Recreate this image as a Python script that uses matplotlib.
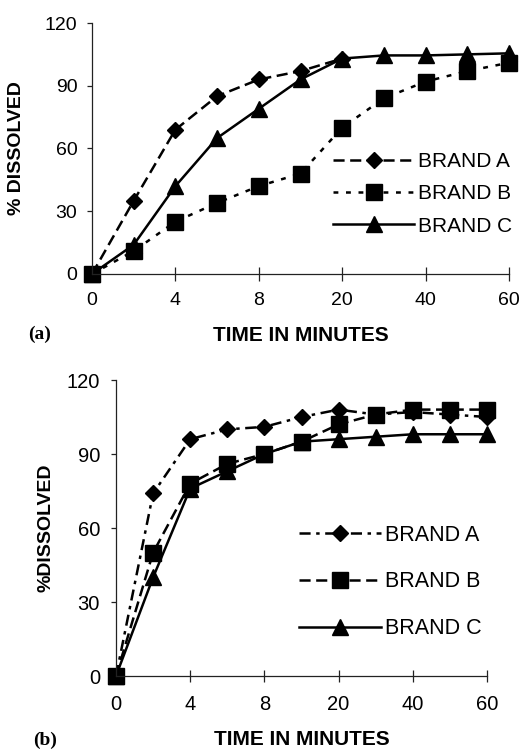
import numpy as np
import matplotlib
matplotlib.use("Agg")
import matplotlib.pyplot as plt

plt.rcParams['font.family'] = ['Liberation Sans', 'DejaVu Sans']
plt.rcParams['lines.scale_dashes'] = False

# sampling times (plotted at equal spacing, like a category axis)
times = [0, 2, 4, 6, 8, 10, 20, 30, 40, 50, 60]
tick_times = [0, 4, 8, 20, 40, 60]
yticks = [0, 30, 60, 90, 120]

# panel (a)  (brand A hidden under brand C after 20 min)
a_brand_a = [0, 35, 69, 85, 93, 97, 103, None, None, None, None]
a_brand_b = [0, 11, 25, 34, 42, 48, 70, 84, 92, 97, 101]
a_brand_c = [0, 14, 42, 65, 79, 93, 103, 104.5, 104.5, 105, 105.5]

# panel (b)
b_brand_a = [0, 74, 96, 100, 101, 105, 108, 106, 107, 106, 105]
b_brand_b = [0, 50, 78, 86, 90, 95, 102, 106, 108, 108, 108]
b_brand_c = [0, 40, 76, 83, 90, 95, 96, 97, 98, 98, 98]

labels = ['BRAND A', 'BRAND B', 'BRAND C']

W, H = 525, 752
fig = plt.figure(figsize=(W / 100, H / 100), dpi=100)


def px_axes(left, top, right, bottom):
    return fig.add_axes([left / W, 1 - bottom / H, (right - left) / W, (bottom - top) / H])


def style_axes(ax, ylab, ylabpad, xlabpad, tickfs, xtlpad, ytlpad, ticklen, labfs):
    x = np.arange(len(times))
    ax.set_xlim(0, len(times) - 1)
    ax.set_ylim(0, 120)
    ax.set_xticks([times.index(t) for t in tick_times])
    ax.set_xticklabels([str(t) for t in tick_times], fontsize=tickfs)
    ax.set_yticks(yticks)
    ax.set_yticklabels([str(v) for v in yticks], fontsize=tickfs)
    for s in ['top', 'right']:
        ax.spines[s].set_visible(False)
    for s in ['left', 'bottom']:
        ax.spines[s].set_linewidth(0.9)
        ax.spines[s].set_color('#222222')
    ax.tick_params(axis='x', direction='inout', length=ticklen, width=0.9, pad=xtlpad, color='#222222')
    ax.tick_params(axis='y', direction='out', length=3.5, width=0.9, pad=ytlpad, color='#222222')
    ax.set_xlabel('TIME IN MINUTES', fontsize=labfs, fontweight='bold', labelpad=xlabpad)
    ax.set_ylabel(ylab, fontsize=14, fontweight='bold', labelpad=ylabpad)
    return x


lw = 1.8
ms = 11.5
dms = 7.8


def to_arr(v):
    return np.array([np.nan if a is None else a for a in v], dtype=float)


# ---- panel (a)
ax1 = px_axes(92, 23, 509, 274)
x = style_axes(ax1, '% DISSOLVED', 14, 12, 14, 8, 7, 10, 15)
ax1.plot(x, to_arr(a_brand_a), color='k', lw=lw, dashes=(8, 4), marker='D', ms=dms, clip_on=False, label=labels[0])
ax1.plot(x, to_arr(a_brand_b), color='k', lw=lw, dashes=(3.5, 5.5), marker='s', ms=ms, clip_on=False, label=labels[1])
ax1.plot(x, to_arr(a_brand_c), color='k', lw=lw, marker='^', ms=ms, clip_on=False, label=labels[2])
ax1.legend(loc='center left', bbox_to_anchor=(0.578, 0.319), frameon=False, fontsize=15,
           handlelength=3.9, handletextpad=0.2, labelspacing=0.64, borderpad=0, borderaxespad=0)

# ---- panel (b)
ax2 = px_axes(116, 380, 487, 676)
x = style_axes(ax2, '%DISSOLVED', 9, 12, 14.5, 9, 8, 9, 15)
ax2.plot(x, to_arr(b_brand_a), color='k', lw=lw, dashes=(8, 4, 2.5, 4), marker='D', ms=dms, clip_on=False, label=labels[0])
ax2.plot(x, to_arr(b_brand_b), color='k', lw=lw, dashes=(8, 4), marker='s', ms=ms, clip_on=False, label=labels[1])
ax2.plot(x, to_arr(b_brand_c), color='k', lw=lw, marker='^', ms=ms, clip_on=False, label=labels[2])
ax2.legend(loc='center left', bbox_to_anchor=(0.493, 0.318), frameon=False, fontsize=15.5,
           handlelength=3.8, handletextpad=0.2, labelspacing=1.2, borderpad=0, borderaxespad=0)

fig.text(40 / W, 1 - 334 / H, '(a)', fontsize=14, fontweight='bold', family='Liberation Serif',
         ha='center', va='center')
fig.text(45 / W, 1 - 740 / H, '(b)', fontsize=14, fontweight='bold', family='Liberation Serif',
         ha='center', va='center')

fig.savefig('out.png', dpi=100, facecolor='white')
